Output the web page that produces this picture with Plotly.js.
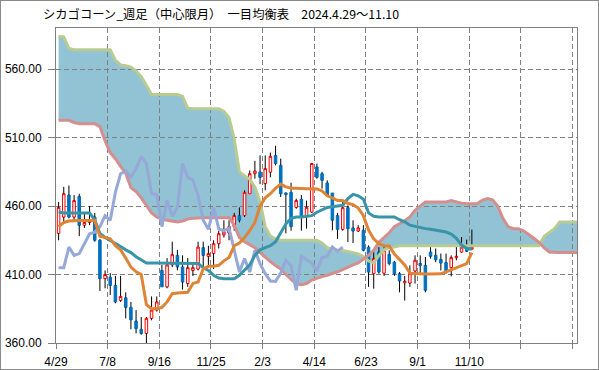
<!DOCTYPE html>
<html><head><meta charset="utf-8">
<script src="https://cdn.plot.ly/plotly-3.0.1.min.js"></script>
<style>
body{margin:0;background:#fff;}
#wrap{position:relative;width:599px;height:370px;}
#frame{position:absolute;left:0;top:0;width:599px;height:370px;box-sizing:border-box;border:1px solid #8a8a8a;pointer-events:none;}
</style>
</head><body>
<div id="wrap"><div id="chart" style="width:599px;height:370px;"></div><div id="frame"></div></div>
<script>
// weekly index 0 = 2024/4/29
const tickLabels = ['4/29','7/8','9/16','11/25','2/3','4/14','6/23','9/1','11/10','',''];
const openP  = [440,452,468,452,467,446,448,452,435,407,408,402,391,393,386,376,370,367,378,384,
                413,401,417,424,415.5,403.4,413,414,429.6,423.3,425.3,432.5,439,440.3,445,453,453,469,483.6,484.8,
                476.4,484.8,497,489.7,469.5,470,459,465,453,455.6,488.5,483.6,476.8,469.5,453,443,458.8,444,441.8,442.3,
                430,410.6,426.4,411,424.7,419,410.6,404,403.8,412.6,418,416.7,426.4,424,421,418.7,415,422.3,426.4,430,428.6];
const highP  = [463,474,475,468,469,455,460,455,436,413,411,409,409,397,390,384,379,379,394,394,
                417,422,434,428,424,422,417,434,434,431,435,442,449.6,449.6,455,459,471.5,486,493,497,
                497,499,504,494.6,470,477,465.4,468,464,491.5,491,485,478.8,469.5,455,464,460.5,449.6,446,446,
                431.3,427.7,430,430,427.7,420,411.8,409,416.7,424,424,422.8,430,429,425.3,425.3,424,431.3,437.4,435.5,442.8];
const lowP   = [435,449,451,449,438,444,446,434,398,400,395,389,390,378,370,367,366,360,376.6,383,
                401,400,415.5,413,399,401,409,413,413,415.5,414,429,437,435,442,448,452,469,480,476,
                471.5,481,489.7,466.6,440,442,458,442,443.5,455,480,472.7,466.6,442.3,436,442,433.7,433,441,427,
                401,399.7,410.6,409,416.7,409,397,391,401,403.4,410.6,397,421.6,419,413,410.6,408.7,420.4,426,426.4,428];
const closeP = [459,469,452,464,446,448,450,435,407,410,402,390,394,386,377,370.5,367,378,384,390,
                401,417,424.5,415.5,404.5,415,415,430,424,425.3,432.5,439.8,441,445,453,449.6,470,483.6,485.5,481,
                487.3,496.3,491,469,468.5,445,464,452.5,459,491,481,478.8,467.8,449.6,443,458.8,443.5,441.8,444,427.7,
                411.8,421.6,411.8,427.7,418,410.6,405.3,405,411,420.4,416.5,398.5,423.3,420.8,418.4,412.6,422.3,423.3,430,427,430];
// 転換線 (conversion line)
const tenkan = [445,448,449,449.5,449.5,449.5,449.5,449.5,438,437,436,431,428,422,415.5,412,410,388,385,385,
                386,390,396,396.5,396.5,397,403.5,404.5,414,416,416,416.7,420,422.5,431,433,437,442,448,460,
                466,469,473,476,474,473,473,472.7,472.7,472.7,472.5,471,467.5,466,464,464,462,461,458.5,453,
                442.5,436,432.5,431,430.8,425,421,417,411,410.6,410.3,410.3,410.3,410.5,410.5,412,413.5,415,416.7,418,426];
// 基準線 (base line)
const kijun = [455.6,455,455,455,455,455,455,450,440,437,435,433,430.5,428,426,423,421,418.4,418.4,418.4,
               418.4,418.4,418.4,418.4,418.4,418.4,418.4,418,415,413,409.5,407.5,407,407,407,409.5,413,417,424,428,
               429.6,431,434,441,447,451,452,452,452.5,453,455.5,457.5,459,459.5,460,460.5,465.5,468.5,467.5,465,
               455,452.5,452,452,452,452,450,448.5,446,445,444.3,443.5,443,442.5,442,441,439.5,436.5,431.5,429,428.4];
// 先行スパン1 / 先行スパン2 (index 0..101)
const spanA = [584,583.5,575,574.2,574.2,574.2,574.2,574.2,574.2,574.2,574.2,566.4,563,562.5,561.5,558.5,554.5,548,541.5,541.5,
               541.5,541.5,541.5,541.5,540,531.5,531,531,531,531,531,531,529,524.5,509,485,482,479.5,474,463,
               445,438,436,435,435,435,435,435,435,435,435,433,429.5,428.5,427.7,427.5,427,426,425,423,
               420,418.5,424,428,429.6,430,431,431,431,431,431,431,431,431,431,431,431,431,431,431,
               431,431,431,431,431,431,431,431,431,431,431,431,431,431,438,441,443.5,448.3,448.3,448.3,448.3,448.3];
const spanB = [522.6,522.6,522.6,521,520.1,520.1,520.1,520.1,518,507.5,499,494.6,489,484,473.5,470.5,466,460,455,452,
               450.5,449.6,449,448.3,449,450.5,451,451.5,451.5,451.5,451.5,451.5,451.5,451.5,446,437,434,431.5,429.5,426,
               422.5,419.5,416.5,414,410,406.5,403,402.5,403.4,406,407.5,408.5,409.5,410.6,412,413.5,415.5,417,418.5,421,
               424,427.7,433.5,437,440.5,445,447,449.3,452,456.9,460,463,463,463,463,463,464,463,462,461.7,
               461.7,461.7,464.2,465.4,464.5,460,451,445,443.5,443.5,442,439.5,436.5,433.5,429.5,426.5,426,426,426,426,426,426];
const LAG = 25;

const idx = closeP.map((_, i) => i);
const idxSpan = spanA.map((_, i) => i);
const bodyTop = idx.map(i => Math.max(openP[i], closeP[i]));
const bodyBot = idx.map(i => Math.min(openP[i], closeP[i]));

// wick segments (outside the bodies)
const wx = [], wy = [];
idx.forEach(i => {
  wx.push(i, i, null, i, i, null);
  wy.push(highP[i], bodyTop[i], null, bodyBot[i], lowP[i], null);
});

// lagging span
const lagX = [], lagY = [];
idx.forEach(i => { if (i - LAG >= 0) { lagX.push(i - LAG); lagY.push(closeP[i]); } });

// cloud polygon built from the two spans
let path = 'M ' + idxSpan.map(i => i + ',' + spanA[i]).join(' L ');
path += ' L ' + idxSpan.slice().reverse().map(i => i + ',' + spanB[i]).join(' L ') + ' Z';

const traces = [
  {type:'candlestick', x: idx, open: openP, high: bodyTop, low: bodyBot, close: closeP,
   increasing:{line:{color:'#FF0000', width:1}, fillcolor:'#FFFFFF'},
   decreasing:{line:{color:'#0070C0', width:1}, fillcolor:'#0070C0'},
   whiskerwidth:0, hoverinfo:'skip', showlegend:false},
  {type:'scatter', mode:'lines', x: wx, y: wy, line:{color:'#000000', width:1}, hoverinfo:'skip', showlegend:false},
  {type:'scatter', mode:'lines', x: idxSpan, y: spanA, line:{color:'#B8CC92', width:3}, showlegend:false},
  {type:'scatter', mode:'lines', x: idxSpan, y: spanB, line:{color:'#D58E8E', width:3}, showlegend:false},
  {type:'scatter', mode:'lines', x: lagX, y: lagY, line:{color:'#95A8D8', width:3}, showlegend:false},
  {type:'scatter', mode:'lines', x: idx, y: kijun, line:{color:'#3894A8', width:3}, showlegend:false},
  {type:'scatter', mode:'lines', x: idx, y: tenkan, line:{color:'#DE8434', width:3}, showlegend:false}
];

const layout = {
  width:599, height:370,
  margin:{l:56, r:22, t:28, b:27},
  paper_bgcolor:'#FFFFFF', plot_bgcolor:'#FFFFFF',
  font:{family:'"Noto Sans CJK JP", "Noto Sans", sans-serif', size:12, color:'#000'},
  title:{text:'シカゴコーン_週足（中心限月）　一目均衡表　2024.4.29～11.10',
         x:43/599, xref:'container', xanchor:'left', y:1-14.5/370, yref:'container', yanchor:'middle',
         font:{family:'"Noto Sans CJK JP", sans-serif', size:12.3, color:'#000'}},
  showlegend:false,
  xaxis:{type:'linear', range:[-0.5, 100.35], rangeslider:{visible:false},
         tickmode:'array', tickvals: tickLabels.map((_, k) => k*10 - 0.5), ticktext: tickLabels,
         showgrid:true, gridcolor:'#808080', griddash:'5px,3px', gridwidth:1,
         ticks:'outside', ticklen:5, tickcolor:'#808080', ticklabelstandoff:3,
         showline:true, linecolor:'#808080', linewidth:1, mirror:true, zeroline:false,
         tickfont:{family:'"Liberation Sans", Arial, sans-serif', size:12, color:'#000'}, fixedrange:true},
  yaxis:{range:[360, 590], tickmode:'linear', tick0:360, dtick:50, tickformat:'.2f',
         showgrid:true, gridcolor:'#808080', griddash:'5px,3px', gridwidth:1,
         ticks:'outside', ticklen:7, tickcolor:'#808080', ticklabelstandoff:4,
         showline:true, linecolor:'#808080', linewidth:1, mirror:true, zeroline:false,
         tickfont:{family:'"Liberation Sans", Arial, sans-serif', size:12, color:'#000'}, fixedrange:true},
  shapes:[{type:'path', path: path, xref:'x', yref:'y', fillcolor:'#92C3D4', line:{width:0}, layer:'below'}]
};
Plotly.newPlot('chart', traces, layout, {displayModeBar:false, staticPlot:true});
</script>
</body></html>
